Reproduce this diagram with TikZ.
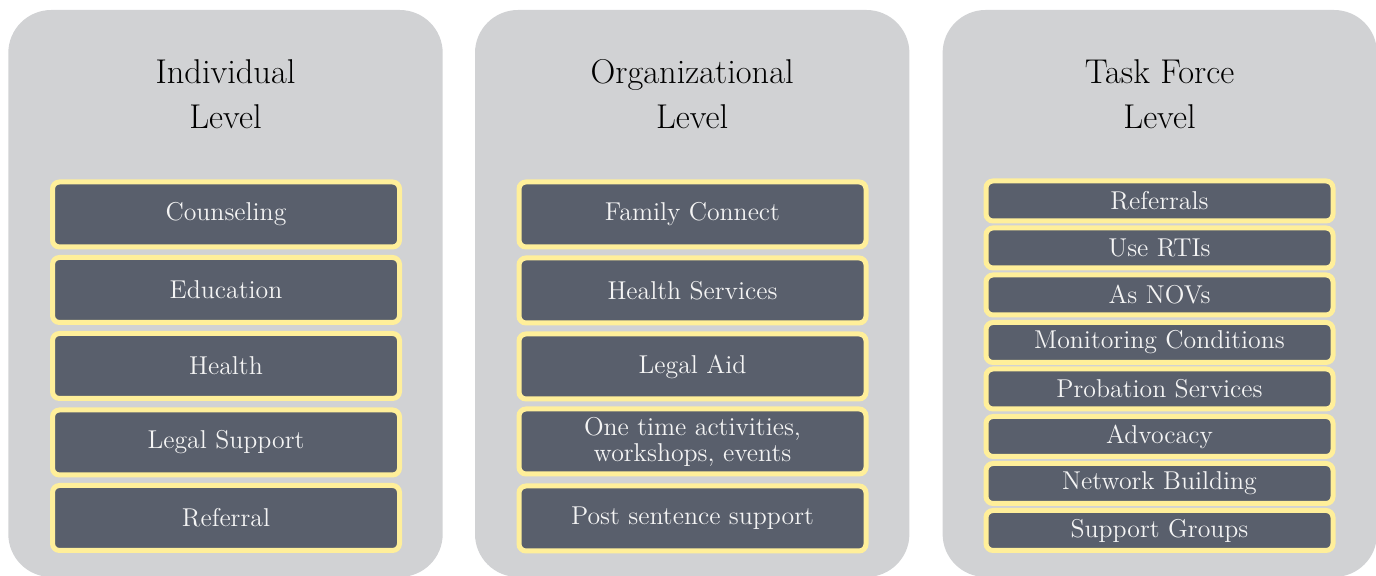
\documentclass[tikz,border=0pt]{standalone}
\usepackage{tikz}
\definecolor{panelgray}{HTML}{D1D2D4}
\definecolor{boxfill}{HTML}{595F6C}
\definecolor{boxedge}{HTML}{FFEF9A}
\definecolor{boxtext}{HTML}{F4F4F4}
\tikzset{
  panel/.style={fill=panelgray, draw=none, rounded corners=21.5pt},
  title/.style={align=center, text=black, font=\fontsize{17.2}{22.5}\selectfont, inner sep=0pt},
  itembox/.style={rectangle, draw=boxedge, fill=boxfill, line width=2.5pt, rounded corners=3.5pt,
    minimum width=173.5pt, minimum height=32.5pt, inner sep=0pt, outer sep=0pt, align=center,
    text=boxtext, font=\fontsize{12.9}{13}\selectfont},
  smallbox/.style={itembox, minimum height=20pt},
}
\begin{document}
\begin{tikzpicture}[x=0.5pt,y=-0.5pt]
\useasboundingbox (0,0) rectangle (1376,576);
\clip (0,0) rectangle (1376,576);
% panels
\fill[panel] (8.3,10) rectangle (442.7,577);
\fill[panel] (475,10) rectangle (909.4,577);
\fill[panel] (942.6,10) rectangle (1377,577);
% titles
\node[title] (t1) at (225.5,94) {Individual\\Level};
\node[title] (t2) at (692.2,94) {Organizational\\Level};
\node[title] (t3) at (1159.5,94) {Task Force\\Level};
% panel 1
\node[itembox] (a1) at (226,214.5) {Counseling};
\node[itembox] (a2) at (226,290) {Education};
\node[itembox] (a3) at (226,366) {Health};
\node[itembox] (a4) at (226,442.5) {Legal Support};
\node[itembox] (a5) at (226,518) {Referral};
% panel 2
\node[itembox] (b1) at (692.5,214.5) {Family Connect};
\node[itembox] (b2) at (692.5,290.5) {Health Services};
\node[itembox] (b3) at (692.5,366.5) {Legal Aid};
\node[itembox] (b4) at (692.5,441.5) {One time activities,\\workshops, events};
\node[itembox] (b5) at (692.5,518.5) {Post sentence support};
% panel 3
\node[smallbox] (c1) at (1159.5,201) {Referrals};
\node[smallbox] (c2) at (1159.5,248) {Use RTIs};
\node[smallbox] (c3) at (1159.5,295) {As NOVs};
\node[smallbox] (c4) at (1159.5,342.5) {Monitoring Conditions};
\node[smallbox] (c5) at (1159.5,389) {Probation Services};
\node[smallbox] (c6) at (1159.5,436.5) {Advocacy};
\node[smallbox] (c7) at (1159.5,483.5) {Network Building};
\node[smallbox] (c8) at (1159.5,530.5) {Support Groups};
\end{tikzpicture}
\end{document}
